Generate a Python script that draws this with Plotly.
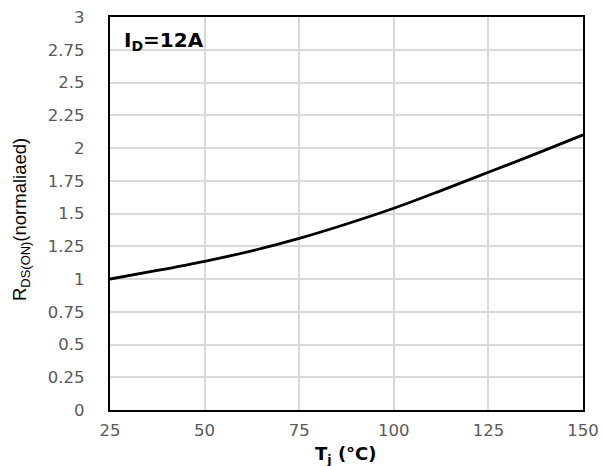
import plotly.graph_objects as go

temps = [25, 37.5, 50, 62.5, 75, 87.5, 100, 112.5, 125, 137.5, 150]
rds_norm = [1.0, 1.065, 1.135, 1.215, 1.31, 1.42, 1.54, 1.675, 1.815, 1.955, 2.10]
x_ticks = [25, 50, 75, 100, 125, 150]
y_ticks = [0, 0.25, 0.5, 0.75, 1, 1.25, 1.5, 1.75, 2, 2.25, 2.5, 2.75, 3]
y_tick_labels = ["0", "0.25", "0.5", "0.75", "1", "1.25", "1.5", "1.75", "2", "2.25", "2.5", "2.75", "3"]

fig = go.Figure()
fig.add_trace(go.Scatter(x=temps, y=rds_norm, mode="lines",
                         line=dict(color="black", width=2.8, shape="spline"),
                         showlegend=False, hoverinfo="skip"))

tick_font = dict(family="DejaVu Sans, sans-serif", size=16.5, color="#595959")
fig.update_xaxes(range=[25, 150], tickvals=x_ticks, tickfont=tick_font,
                 showgrid=True, gridcolor="#d9d9d9", gridwidth=1.5,
                 showline=True, linecolor="black", linewidth=2.2, mirror=True,
                 ticks="", zeroline=False, automargin=False, ticklabelstandoff=4)
fig.update_yaxes(range=[0, 3], tickvals=y_ticks, ticktext=y_tick_labels, tickfont=tick_font,
                 showgrid=True, gridcolor="#d9d9d9", gridwidth=1.5,
                 showline=True, linecolor="black", linewidth=2.2, mirror=True,
                 ticks="", zeroline=False, ticklabelstandoff=20, automargin=False)

W, H = 603, 466
L, R, T, B = 110, 20, 17, 56
pw, ph = W - L - R, H - T - B

def px_x(x):
    return (x - L) / pw

def px_y(y):
    return (H - B - y) / ph

fig.add_annotation(x=px_x(122), y=px_y(41), xref="paper", yref="paper", xanchor="left", yanchor="middle",
                   text="<b>I<sub>D</sub>=12A</b>", showarrow=False,
                   font=dict(family="DejaVu Sans, sans-serif", size=20, color="black"))
fig.add_annotation(x=px_x(346), y=px_y(455), xref="paper", yref="paper", xanchor="center", yanchor="middle",
                   text="<b>T<sub>j</sub> (°C)</b>", showarrow=False,
                   font=dict(family="DejaVu Sans, sans-serif", size=18, color="black"))
fig.add_annotation(x=px_x(21), y=px_y(220), xref="paper", yref="paper", xanchor="center", yanchor="middle",
                   text="R<sub>DS(ON)</sub>(normaliaed)", showarrow=False, textangle=-90,
                   font=dict(family="Liberation Sans, Arial, sans-serif", size=18.5, color="black"))

fig.update_layout(width=W, height=H, margin=dict(l=L, r=R, t=T, b=B, autoexpand=False),
                  plot_bgcolor="white", paper_bgcolor="white")

fig.write_html("out.html", config={"displayModeBar": False},
               post_script="document.body.style.margin='0';document.body.style.overflow='hidden';")
